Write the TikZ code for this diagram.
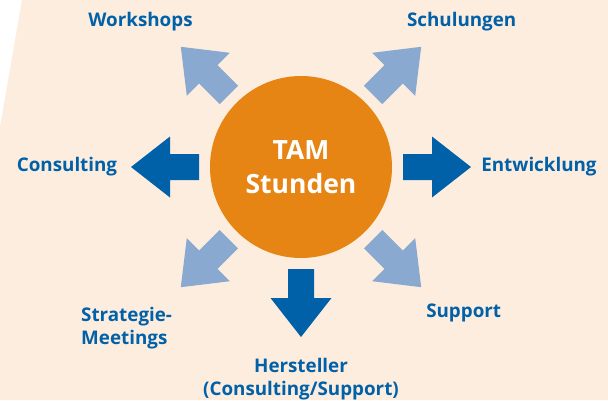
\documentclass[tikz,border=0pt]{standalone}
\usepackage{fontspec}
\setmainfont{Open Sans}
\definecolor{bg}{RGB}{253,237,222}
\definecolor{dblue}{RGB}{0,96,168}
\definecolor{lblue}{RGB}{138,169,209}
\definecolor{orng}{RGB}{230,132,20}
\tikzset{
  bigarrow/.pic={\path[pic actions] (102,-13) -- (131,-13) -- (131,-30.5) -- (170,0) -- (131,30.5) -- (131,13) -- (102,13) -- cycle;},
  darrow/.style={fill=dblue},
  larrow/.style={fill=lblue},
  lab/.style={text=dblue, font=\fontsize{18.8}{23.5}\selectfont\bfseries, inner sep=0pt},
  hub/.style={circle, fill=orng, minimum size=182pt, inner sep=0pt, text=white, align=center, font=\fontsize{26.5}{33.5}\selectfont\bfseries}
}
\begin{document}
\begin{tikzpicture}[x=1pt,y=-1pt]
\useasboundingbox (0,0) rectangle (608,400);
\fill[white] (0,0) rectangle (608,400);
\fill[bg] (22,0) -- (608,0) -- (608,400) -- (0,400) -- (0,127) -- cycle;
\node[hub] (c) at (301,167) {TAM\\Stunden};
\pic[darrow, rotate=0] at (c.center) {bigarrow};
\pic[darrow, rotate=180] at (c.center) {bigarrow};
\pic[darrow, rotate=270] at (c.center) {bigarrow};
\pic[larrow, rotate=45] at (c.center) {bigarrow};
\pic[larrow, rotate=135] at (c.center) {bigarrow};
\pic[larrow, rotate=225] at (c.center) {bigarrow};
\pic[larrow, rotate=315] at (c.center) {bigarrow};
\node[lab, anchor=base] (ws) at (140.5,26) {Workshops};
\node[lab, anchor=base] (sch) at (461.7,26) {Schulungen};
\node[lab, anchor=base] (con) at (67,171.7) {Consulting};
\node[lab, anchor=base] (ent) at (539,171.7) {Entwicklung};
\node[lab, anchor=base] (sup) at (463.7,317.7) {Support};
\node[lab, align=left, anchor=north west] (str) at (81,307) {Strategie-\\Meetings};
\node[lab, align=center, anchor=north] (her) at (301,358) {Hersteller\\(Consulting/Support)};
\end{tikzpicture}
\end{document}
